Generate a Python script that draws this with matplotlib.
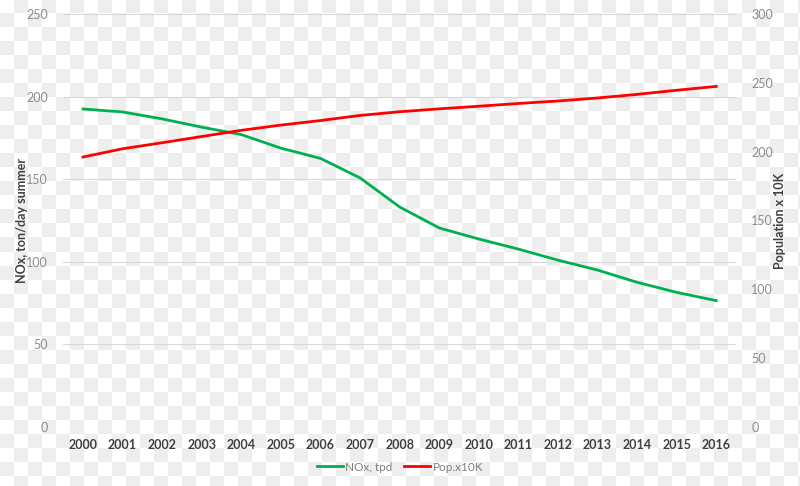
import numpy as np
import matplotlib
matplotlib.use("Agg")
import matplotlib.pyplot as plt

plt.rcParams['font.family'] = ['Lato', 'DejaVu Sans']

# data
years = [str(y) for y in range(2000, 2017)]
nox_tpd = [192.5, 190.7, 186.5, 181.5, 177.0, 168.8, 162.6, 150.8, 133.2,
           120.5, 113.8, 107.7, 101.0, 95.0, 87.6, 81.5, 76.5]
pop_x10k = [196.1, 202.1, 206.5, 211.0, 215.5, 219.3, 222.6, 226.3, 229.0,
            231.1, 233.0, 235.0, 236.8, 239.0, 241.6, 244.6, 247.4]

left_ticks = [0, 50, 100, 150, 200, 250]
right_ticks = [0, 50, 100, 150, 200, 250, 300]

fig = plt.figure(figsize=(8, 4.86), dpi=100)

# checkered background (transparency pattern of the source image)
yy, xx = np.indices((486, 800))
board = np.where(((xx // 14) + (yy // 14)) % 2 == 0, 1.0, 0.93)
bg = fig.add_axes([0, 0, 1, 1], zorder=-1)
bg.imshow(board, cmap='gray', vmin=0, vmax=1, aspect='auto',
          interpolation='nearest')
bg.axis('off')

ax = fig.add_axes([0.079, 0.1214, 0.841, 0.8498])
ax.patch.set_visible(False)
x = np.arange(len(years))

ax.plot(x, nox_tpd, color='#00b050', lw=2.0, label='NOx, tpd', zorder=3)
ax2 = ax.twinx()
ax2.patch.set_visible(False)
ax2.plot(x, pop_x10k, color='#ff0000', lw=2.0, label='Pop.x10K', zorder=3)

ax.set_xlim(-0.5, len(years) - 0.5)
ax.set_ylim(0, 250)
ax2.set_ylim(0, 300)
ax.set_yticks(left_ticks)
ax2.set_yticks(right_ticks)
ax.set_xticks(x)
ax.set_xticklabels(years, fontsize=8.5, fontweight='bold', color='#404040')
ax.yaxis.grid(True, color='#d9d9d9', lw=0.8)
ax.set_axisbelow(True)

for a in (ax, ax2):
    for s in a.spines.values():
        s.set_visible(False)
    a.tick_params(length=0, labelsize=9, labelcolor='#8c8c8c')
ax.tick_params(axis='y', pad=11)
ax2.tick_params(axis='y', pad=11)
ax.tick_params(axis='x', pad=9, labelcolor='#404040')

ax.set_ylabel('NOx, ton/day summer', fontsize=9, fontweight='bold',
              color='#404040')
ax.yaxis.set_label_coords(-0.052, 0.5)
ax2.set_ylabel('Population x 10K', fontsize=9, fontweight='bold',
               color='#404040')
ax2.yaxis.set_label_coords(1.056, 0.5)

h1, l1 = ax.get_legend_handles_labels()
h2, l2 = ax2.get_legend_handles_labels()
fig.legend(h1 + h2, l1 + l2, loc='center', bbox_to_anchor=(0.5, 0.039),
           ncol=2, frameon=False, fontsize=8.5, handlelength=2.2,
           handletextpad=0.2, columnspacing=1.0, labelcolor='#7f7f7f')

fig.savefig('out.png', dpi=100)
